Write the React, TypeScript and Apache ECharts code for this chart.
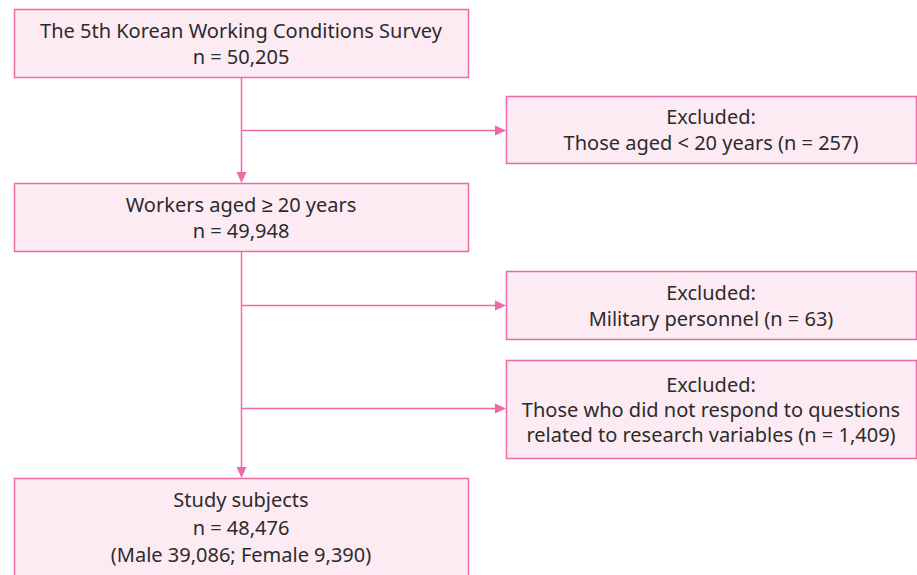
import React, { useEffect, useRef } from "react";
import * as echarts from "echarts";

const mainBoxes = [
  ["The 5th Korean Working Conditions Survey", "n = 50,205"],
  ["Workers aged ≥ 20 years", "n = 49,948"],
  ["Study subjects", "n = 48,476", "(Male 39,086; Female 9,390)"],
];
const excludedBoxes = [
  ["Excluded:", "Those aged < 20 years (n = 257)"],
  ["Excluded:", "Military personnel (n = 63)"],
  ["Excluded:", "Those who did not respond to questions", "related to research variables (n = 1,409)"],
];

const BORDER = "#ee6aa7";
const FILL = "#fdebf3";
const TEXT = "#2b2b2b";
const FONT = "'Noto Sans', sans-serif";

export default function App() {
  const ref = useRef<HTMLDivElement>(null);
  useEffect(() => {
    document.body.style.margin = "0";
    const chart = echarts.init(ref.current!, null, { renderer: "svg" });
    const mainGeo = [
      { x: 14, y: 9, w: 454, h: 68 },
      { x: 14, y: 183, w: 454, h: 68 },
      { x: 14, y: 478, w: 454, h: 98 },
    ];
    const exGeo = [
      { x: 506, y: 96, w: 410, h: 67 },
      { x: 506, y: 271, w: 410, h: 68 },
      { x: 506, y: 360, w: 410, h: 98 },
    ];
    const elements: any[] = [];
    const addBox = (g: any, lines: string[], lh: number) => {
      elements.push({
        type: "rect",
        shape: { x: g.x + 0.5, y: g.y + 0.5, width: g.w, height: g.h },
        style: { fill: FILL, stroke: BORDER, lineWidth: 1.5 },
      });
      elements.push({
        type: "text",
        x: g.x + g.w / 2,
        y: g.y + g.h / 2,
        style: {
          text: lines.join("\n"),
          fill: TEXT,
          font: `20px ${FONT}`,
          lineHeight: lh,
          align: "center",
          verticalAlign: "middle",
        },
      });
    };
    mainBoxes.forEach((b, i) => addBox(mainGeo[i], b, i === 2 ? 27.5 : 26));
    excludedBoxes.forEach((b, i) => addBox(exGeo[i], b, i === 2 ? 25 : 26));
    const cx = 241.5;
    const line = (x1: number, y1: number, x2: number, y2: number) =>
      elements.push({
        type: "line",
        shape: { x1, y1, x2, y2 },
        style: { stroke: BORDER, lineWidth: 1.5 },
      });
    const downArrow = (x: number, y: number) =>
      elements.push({
        type: "polygon",
        shape: { points: [[x - 5, y - 11], [x + 5, y - 11], [x, y]] },
        style: { fill: BORDER },
      });
    const rightArrow = (x: number, y: number) =>
      elements.push({
        type: "polygon",
        shape: { points: [[x - 11, y - 5], [x - 11, y + 5], [x, y]] },
        style: { fill: BORDER },
      });
    line(cx, 77, cx, 180);
    downArrow(cx, 183);
    line(cx, 251, cx, 475);
    downArrow(cx, 478);
    const hy = [130.5, 305.5, 408.5];
    hy.forEach((y) => {
      line(cx, y, 500, y);
      rightArrow(506, y);
    });
    chart.setOption({
      animation: false,
      graphic: { elements },
    });
    return () => chart.dispose();
  }, []);
  return <div ref={ref} style={{ width: 917, height: 575, background: "#fff" }} />;
}
